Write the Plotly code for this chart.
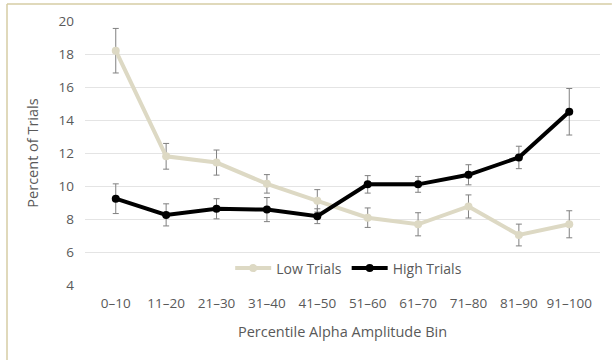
import plotly.graph_objects as go

bins = ["0–10", "11–20", "21–30", "31–40", "41–50",
        "51–60", "61–70", "71–80", "81–90", "91–100"]

low_trials = [18.2, 11.8, 11.42, 10.13, 9.1, 8.08, 7.68, 8.76, 7.03, 7.68]
low_err = [1.35, 0.78, 0.76, 0.56, 0.68, 0.59, 0.7, 0.7, 0.66, 0.82]

high_trials = [9.23, 8.25, 8.62, 8.57, 8.17, 10.1, 10.1, 10.68, 11.73, 14.5]
high_err = [0.9, 0.67, 0.61, 0.73, 0.45, 0.53, 0.48, 0.61, 0.68, 1.41]

y_ticks = [4, 6, 8, 10, 12, 14, 16, 18, 20]

LOW_COLOR = "#DDD9C4"
HIGH_COLOR = "#000000"
ERR_COLOR = "#808080"
TEXT_COLOR = "#595959"
FONT = "Open Sans"

fig = go.Figure()

fig.add_trace(go.Scatter(
    x=bins, y=low_trials, name="Low Trials",
    mode="lines+markers",
    line=dict(color=LOW_COLOR, width=4),
    marker=dict(color=LOW_COLOR, size=8),
    error_y=dict(type="data", array=low_err, visible=True,
                 color=ERR_COLOR, thickness=1, width=3),
))

fig.add_trace(go.Scatter(
    x=bins, y=high_trials, name="High Trials",
    mode="lines+markers",
    line=dict(color=HIGH_COLOR, width=4),
    marker=dict(color=HIGH_COLOR, size=8),
    error_y=dict(type="data", array=high_err, visible=True,
                 color=ERR_COLOR, thickness=1, width=3),
))

fig.update_layout(
    width=612, height=360,
    margin=dict(l=85, r=12, t=21, b=75),
    paper_bgcolor="white",
    plot_bgcolor="white",
    font=dict(family=FONT, color=TEXT_COLOR, size=13),
    showlegend=True,
    legend=dict(
        orientation="h",
        x=0.512, xanchor="center",
        y=0.0625, yanchor="middle",
        bgcolor="rgba(0,0,0,0)",
        font=dict(family=FONT, size=14, color=TEXT_COLOR),
        itemwidth=36,
        tracegroupgap=0,
    ),
    xaxis=dict(
        type="category",
        showgrid=False, showline=False, zeroline=False,
        ticks="", tickfont=dict(size=13.5, color=TEXT_COLOR),
        ticklabelstandoff=8,
        title=dict(text="Percentile Alpha Amplitude Bin",
                   font=dict(size=14.5, color=TEXT_COLOR), standoff=16),
    ),
    yaxis=dict(
        range=[4, 20], tickvals=y_ticks,
        showgrid=True, gridcolor="#E4E4E4", gridwidth=1,
        zeroline=False, showline=False, ticks="",
        tickfont=dict(size=13.5, color=TEXT_COLOR),
        ticklabelstandoff=10,
        title=dict(text="Percent of Trials",
                   font=dict(size=14.5, color=TEXT_COLOR), standoff=16),
    ),
)

# Chart frame (top and left edges)
frame_color = "#D6CDA4"
left_edge = -78 / 515
top_edge = 1 + 17 / 264
fig.add_shape(type="line", xref="paper", yref="paper",
              x0=left_edge, x1=1.023, y0=top_edge, y1=top_edge,
              line=dict(color=frame_color, width=1.5))
fig.add_shape(type="line", xref="paper", yref="paper",
              x0=left_edge, x1=left_edge, y0=-0.29, y1=top_edge,
              line=dict(color=frame_color, width=1.5))

fig.write_html(
    "out.html",
    config={"displayModeBar": False},
    post_script="document.body.style.margin='0';"
                "document.body.style.overflow='hidden';",
)
